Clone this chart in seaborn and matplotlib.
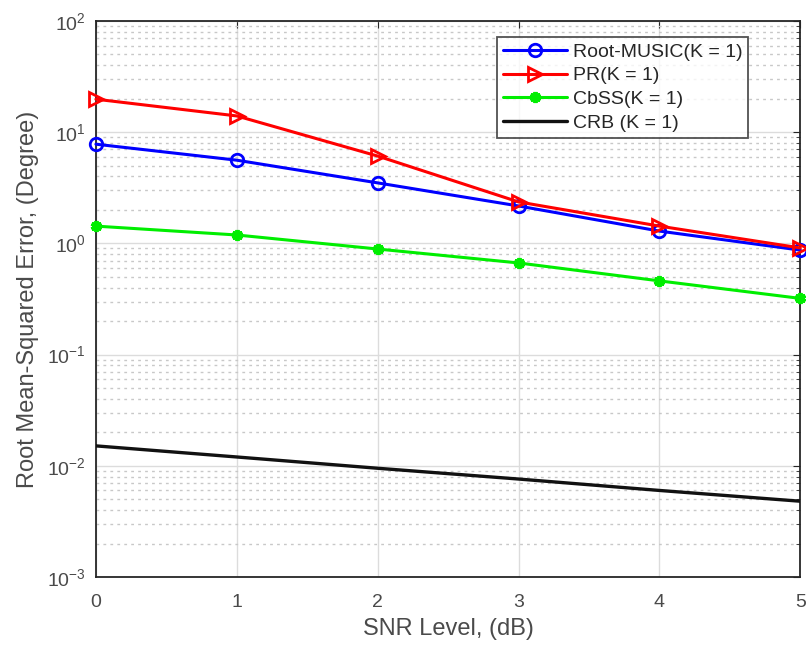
import matplotlib
matplotlib.use("Agg")
import matplotlib.pyplot as plt
import seaborn as sns
import pandas as pd
import numpy as np
from matplotlib.ticker import LogLocator, NullFormatter

snr = [0, 1, 2, 3, 4, 5]
root_music = [7.8, 5.6, 3.5, 2.17, 1.29, 0.87]
pr = [19.8, 14.0, 6.1, 2.36, 1.43, 0.91]
cbss = [1.43, 1.19, 0.89, 0.667, 0.46, 0.32]
crb = [0.0151, 0.012, 0.0095, 0.0076, 0.006, 0.0048]
labels = ["Root-MUSIC(K = 1)", "PR(K = 1)", "CbSS(K = 1)", "CRB (K = 1)"]

sns.set_style("white")
plt.rcParams['font.family'] = ['Liberation Sans', 'DejaVu Sans']
plt.rcParams['mathtext.fontset'] = 'custom'
plt.rcParams['mathtext.rm'] = 'Liberation Sans'
plt.rcParams['mathtext.it'] = 'Liberation Sans'

fig = plt.figure(figsize=(8.06, 6.48), dpi=100)
ax = fig.add_axes([0.119, 0.1096, 0.874, 0.858])

df = pd.DataFrame({"snr": snr, "rm": root_music, "pr": pr, "cb": cbss, "crb": crb})

sns.lineplot(data=df, x="snr", y="rm", ax=ax, color="#0000ff", lw=2.2, marker="o",
             markersize=9, markerfacecolor="none", markeredgecolor="#0000ff",
             markeredgewidth=2, label=labels[0], clip_on=False, zorder=5)
sns.lineplot(data=df, x="snr", y="pr", ax=ax, color="#ff0000", lw=2.2, marker=">",
             markersize=10, markerfacecolor="none", markeredgecolor="#ff0000",
             markeredgewidth=2, label=labels[1], clip_on=False, zorder=6)
sns.lineplot(data=df, x="snr", y="cb", ax=ax, color="#00ee00", lw=2.2, marker=(6, 2, 0),
             markersize=8, markerfacecolor="#00ee00", markeredgecolor="#00ee00",
             markeredgewidth=2.8, label=labels[2], clip_on=False, zorder=5)
sns.lineplot(data=df, x="snr", y="crb", ax=ax, color="#111111", lw=2.4,
             label=labels[3], zorder=5)

ax.set_yscale("log")
ax.set_xlim(0, 5)
ax.set_ylim(1e-3, 1e2)
ax.set_xticks(snr)
ax.yaxis.set_major_locator(LogLocator(base=10, numticks=10))
ax.yaxis.set_minor_locator(LogLocator(base=10, subs=np.arange(2, 10), numticks=20))
ax.yaxis.set_minor_formatter(NullFormatter())

ax.grid(True, which="major", color="#dcdcdc", lw=1, ls="-")
ax.grid(True, which="minor", axis="y", color="#c8c8c8", lw=1, ls=(0, (2, 3)))
ax.set_axisbelow(True)

for s in ax.spines.values():
    s.set_color("#262626")
    s.set_linewidth(1.3)
ax.tick_params(which="both", direction="in", top=True, right=True,
               colors="#262626", labelsize=14, labelcolor="#4a4a4a")
ax.tick_params(which="major", length=5)
ax.tick_params(which="minor", length=3)
ax.tick_params(axis="x", pad=12)
ax.tick_params(axis="y", pad=7)

ax.set_xlabel("SNR Level, (dB)", fontsize=17, color="#4a4a4a", labelpad=5)
ax.set_ylabel("Root Mean-Squared Error, (Degree)", fontsize=17, color="#4a4a4a", labelpad=6)

leg = ax.legend(loc="upper right", bbox_to_anchor=(0.926, 0.971), borderaxespad=0,
                fontsize=14, frameon=True, fancybox=False, edgecolor="#262626",
                handlelength=3.3, handletextpad=0.3, labelspacing=0.32, borderpad=0.3)
leg.get_frame().set_linewidth(1.3)
for t in leg.get_texts():
    t.set_color("#262626")

fig.savefig("out.png", dpi=100)
